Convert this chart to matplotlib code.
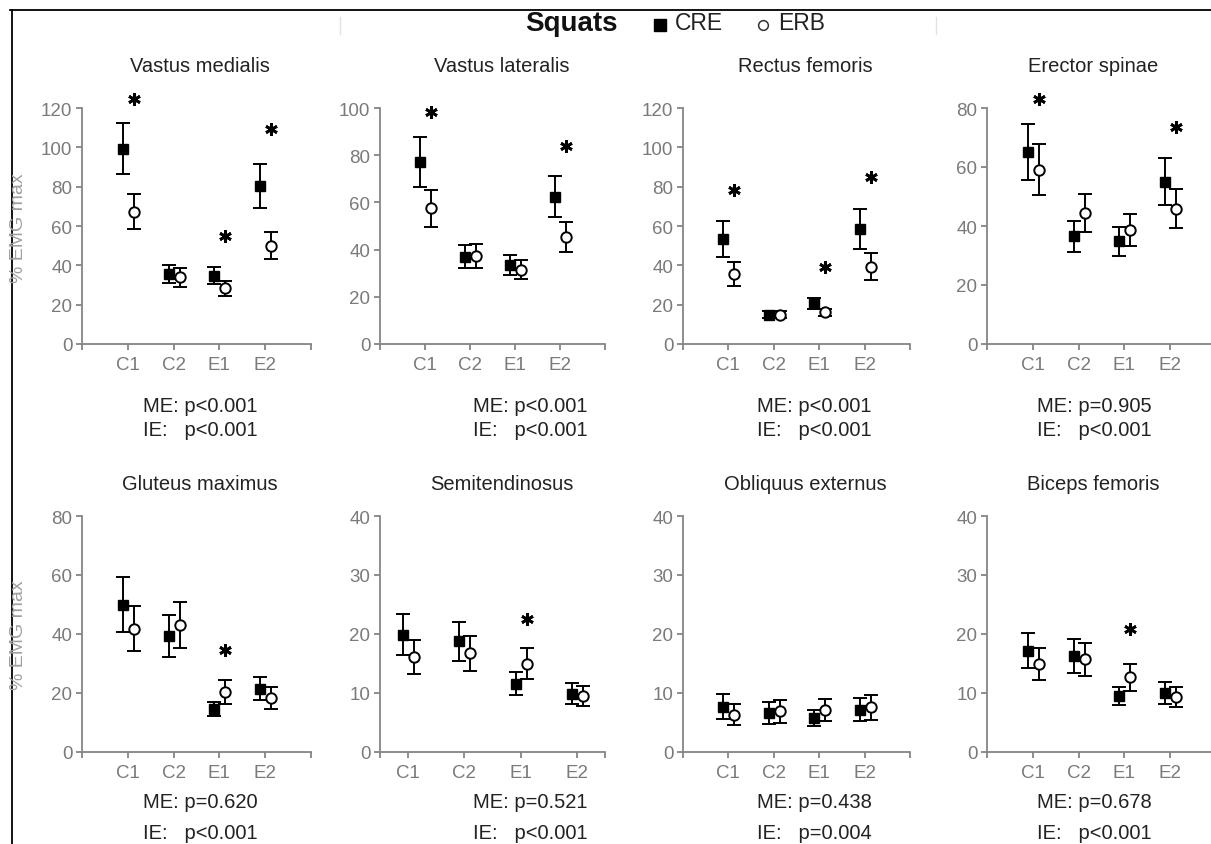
import numpy as np
import matplotlib
matplotlib.use('Agg')
import matplotlib.pyplot as plt
from matplotlib.transforms import offset_copy
from matplotlib.lines import Line2D

plt.rcParams['font.family'] = ['Liberation Sans', 'DejaVu Sans']

# data (% EMG max, mean and SD)
conditions = ['C1', 'C2', 'E1', 'E2']
muscles = ['Vastus medialis', 'Vastus lateralis', 'Rectus femoris', 'Erector spinae',
           'Gluteus maximus', 'Semitendinosus', 'Obliquus externus', 'Biceps femoris']

cre_mean = [[99.2, 35.5, 34.8, 80.5],
            [77.0, 37.0, 33.6, 62.5],
            [53.4, 15.0, 20.8, 58.5],
            [65.2, 36.5, 34.8, 55.0],
            [50.0, 39.3, 14.5, 21.5],
            [19.9, 18.8, 11.6, 9.9],
            [7.7, 6.6, 5.8, 7.2],
            [17.2, 16.3, 9.5, 10.0]]
cre_sd = [[13.0, 4.5, 4.5, 11.2],
          [10.6, 4.8, 4.3, 8.5],
          [9.2, 1.8, 2.8, 10.0],
          [9.5, 5.3, 5.0, 8.0],
          [9.2, 7.2, 2.4, 4.0],
          [3.5, 3.3, 2.0, 1.8],
          [2.1, 1.8, 1.4, 1.9],
          [3.0, 2.9, 1.6, 1.8]]
erb_mean = [[67.3, 33.9, 28.3, 50.0],
            [57.5, 37.4, 31.5, 45.2],
            [35.6, 15.0, 16.1, 39.3],
            [59.1, 44.3, 38.6, 45.8],
            [41.8, 42.9, 20.3, 18.3],
            [16.1, 16.7, 15.0, 9.5],
            [6.3, 6.9, 7.1, 7.6],
            [14.9, 15.7, 12.7, 9.3]]
erb_sd = [[9.0, 4.7, 3.9, 6.8],
          [7.8, 5.1, 4.1, 6.3],
          [6.1, 1.8, 1.8, 6.8],
          [8.6, 6.4, 5.5, 6.6],
          [7.6, 7.8, 4.0, 3.6],
          [2.9, 3.0, 2.7, 1.7],
          [1.8, 1.9, 1.9, 2.1],
          [2.7, 2.8, 2.3, 1.7]]

# asterisks: (condition index, height)
stars = [[(0, 124.6), (2, 54.7), (3, 109.3)],
         [(0, 98.2), (3, 84.0)],
         [(0, 78.5), (2, 39.3), (3, 85.0)],
         [(0, 83.0), (3, 73.4)],
         [(2, 34.5)],
         [(2, 22.6)],
         [],
         [(2, 20.8)]]

me_p = ['p<0.001', 'p<0.001', 'p<0.001', 'p=0.905', 'p=0.620', 'p=0.521', 'p=0.438', 'p=0.678']
ie_p = ['p<0.001', 'p<0.001', 'p<0.001', 'p<0.001', 'p<0.001', 'p<0.001', 'p=0.004', 'p<0.001']

y_max = [120, 100, 120, 80, 80, 40, 40, 40]
y_step = [20, 20, 20, 20, 20, 10, 10, 10]

# layout in pixels
W, H = 1211, 845
fig = plt.figure(figsize=(W / 100, H / 100), dpi=100)

col_l = [82, 380, 683, 987]
col_r = [311, 605, 910, 1216]
row_top = [109, 517]
row_bot = [345, 753]
title_x = [200, 502, 805, 1093]
title_y = [67, 485]
me_x = [143, 473, 757, 1037]
me_y = [407, 803]
ie_y = [431, 834]

gray = '#858585'
x = np.arange(4)

for i, name in enumerate(muscles):
    r, c = divmod(i, 4)
    l, rr = col_l[c], col_r[c]
    t, b = row_top[r], row_bot[r]
    ax = fig.add_axes([l / W, 1 - b / H, (rr - l) / W, (b - t) / H])

    lo, hi = (-0.5, 3.5) if name == 'Semitendinosus' else (-1, 4)

    tr_sq = offset_copy(ax.transData, fig=fig, x=-5, y=0, units='dots')
    tr_ci = offset_copy(ax.transData, fig=fig, x=6, y=0, units='dots')

    ax.errorbar(x, cre_mean[i], yerr=cre_sd[i], fmt='s', color='black', ms=7.5,
                elinewidth=1.4, capsize=5, capthick=1.4, transform=tr_sq,
                clip_on=False, zorder=3)
    ax.errorbar(x, erb_mean[i], yerr=erb_sd[i], fmt='o', color='black', mfc='white',
                mec='black', mew=1.4, ms=7.5, elinewidth=1.4, capsize=5,
                capthick=1.4, transform=tr_ci, clip_on=False, zorder=4)

    if stars[i]:
        sx = [s[0] for s in stars[i]]
        sy = [s[1] for s in stars[i]]
        ax.plot(sx, sy, linestyle='none', marker=(6, 2, 0), ms=9, mew=2.0,
                color='black', transform=tr_ci, clip_on=False)

    ax.set_xlim(lo, hi)
    ax.set_ylim(0, y_max[i])
    ax.set_xticks([lo, 0, 1, 2, 3, hi])
    ax.set_xticklabels([''] + conditions + [''])
    ax.set_yticks(np.arange(0, y_max[i] + 1, y_step[i]))

    for s in ['top', 'right']:
        ax.spines[s].set_visible(False)
    for s in ['left', 'bottom']:
        ax.spines[s].set_color(gray)
        ax.spines[s].set_linewidth(1.3)
    ax.tick_params(direction='out', length=4, width=1.3, color=gray,
                   labelcolor='#7a7a7a', labelsize=13.5)
    ax.tick_params(axis='x', pad=5)
    ax.tick_params(axis='y', pad=3)

    fig.text(title_x[c] / W, 1 - title_y[r] / H, name, ha='center', va='center',
             fontsize=14.5, color='#222222')
    fig.text(me_x[c] / W, 1 - me_y[r] / H, 'ME: ' + me_p[i], ha='left', va='center',
             fontsize=14.5, color='#222222')
    fig.text(me_x[c] / W, 1 - ie_y[r] / H, 'IE:   ' + ie_p[i], ha='left', va='center',
             fontsize=14.5, color='#222222')

# y labels
for yc in [228, 635]:
    fig.text(19 / W, 1 - yc / H, '% EMG max', rotation=90, ha='center', va='center',
             fontsize=14, color='#a0a0a0')

# header with legend
fig.text(571 / W, 1 - 24 / H, 'Squats', ha='center', va='center', fontsize=20,
         fontweight='bold', color='#111111')
fig.add_artist(Line2D([660 / W], [1 - 26 / H], marker='s', ms=8, color='black',
                      linestyle='none', transform=fig.transFigure))
fig.text(675 / W, 1 - 24 / H, 'CRE', ha='left', va='center', fontsize=16.5, color='#222222')
fig.add_artist(Line2D([763 / W], [1 - 26 / H], marker='o', ms=7, mfc='white', mec='#333333',
                      mew=1.1, linestyle='none', transform=fig.transFigure))
fig.text(778 / W, 1 - 24 / H, 'ERB', ha='left', va='center', fontsize=16.5, color='#222222')

# frame lines of the scanned figure
fig.add_artist(Line2D([10 / W, 1], [1 - 11 / H, 1 - 11 / H], color='black', lw=1.3,
                      transform=fig.transFigure))
fig.add_artist(Line2D([12 / W, 12 / W], [1 - 11 / H, 0], color='black', lw=1.3,
                      transform=fig.transFigure))
for xm in [340, 936]:
    fig.add_artist(Line2D([xm / W, xm / W], [1 - 18 / H, 1 - 35 / H], color='#e2e2e2',
                          lw=1, transform=fig.transFigure))

fig.savefig('out.png', dpi=100)
